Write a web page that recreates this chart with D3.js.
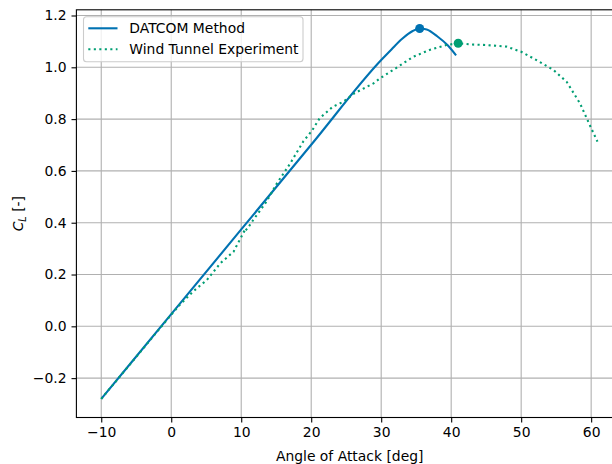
<!DOCTYPE html>
<html>
<head>
<meta charset="utf-8">
<script src="https://cdn.jsdelivr.net/npm/d3@7"></script>
<style>
    html, body { margin: 0; padding: 0; background: #fff; }
    svg { display: block; font-family: "DejaVu Sans", sans-serif; }
</style>
</head>
<body>
<svg id="chart" width="612" height="464"></svg>
<script>
// DATCOM prediction
const alphaDatcom = [-10, 0, 10, 20, 30, 31.5, 33, 34.5, 35.5, 36.5, 38, 39.5, 40.7];
const clDatcom = [-0.28, 0.047, 0.374, 0.701, 1.028, 1.07, 1.11, 1.14, 1.15, 1.146, 1.12, 1.085, 1.046];

// wind tunnel measurements
const alphaWT = [-10, -5, 0, 1.2, 3.1, 5.1, 7.0, 8.9, 10.0, 10.6, 10.3, 10.9, 11.7, 13.6, 15.1, 17.0,
    18.9, 20.1, 21.2, 22.0, 23.1, 24.6, 26.2, 28.9, 29.8, 32.0, 34.6, 37.0, 39.3, 41.0, 43.0, 45.0,
    47.9, 50.0, 51.7, 53.0, 54.6, 56.5, 58.4, 59.8, 60.9];
const clWT = [-0.28, -0.118, 0.045, 0.082, 0.134, 0.179, 0.243, 0.288, 0.345, 0.375, 0.362, 0.378, 0.41, 0.481, 0.552, 0.629,
    0.715, 0.755, 0.803, 0.822, 0.848, 0.867, 0.9, 0.938, 0.957, 0.995, 1.041, 1.068, 1.086, 1.093, 1.088, 1.086,
    1.08, 1.06, 1.035, 1.015, 0.99, 0.944, 0.861, 0.777, 0.713];

const xTicks = [-10, 0, 10, 20, 30, 40, 50, 60];
const yTicks = [-0.2, 0.0, 0.2, 0.4, 0.6, 0.8, 1.0, 1.2];

const seriesNames = ['DATCOM Method', 'Wind Tunnel Experiment'];
const colors = ['#0072B2', '#009E73'];

const svg = d3.select('#chart');
const plot = { left: 76.4, top: 9.8, right: 623, bottom: 417.5 };

const x = d3.scaleLinear().domain([-13.55, 64.55]).range([plot.left, plot.right]);
const y = d3.scaleLinear().domain([-0.352, 1.222]).range([plot.bottom, plot.top]);

const minus = s => s.replace('-', '\u2212');

// grid
svg.append('g').selectAll('line').data(xTicks).join('line')
    .attr('x1', d => x(d)).attr('x2', d => x(d))
    .attr('y1', plot.top).attr('y2', plot.bottom)
    .attr('stroke', '#b0b0b0').attr('stroke-width', 1.1);
svg.append('g').selectAll('line').data(yTicks).join('line')
    .attr('x1', plot.left).attr('x2', plot.right)
    .attr('y1', d => y(d)).attr('y2', d => y(d))
    .attr('stroke', '#b0b0b0').attr('stroke-width', 1.1);

// curves
const datcom = alphaDatcom.map((a, i) => [a, clDatcom[i]]);
const wt = alphaWT.map((a, i) => [a, clWT[i]]);

svg.append('path')
    .datum(datcom)
    .attr('fill', 'none')
    .attr('stroke', colors[0])
    .attr('stroke-width', 2.1)
    .attr('d', d3.line().x(d => x(d[0])).y(d => y(d[1])).curve(d3.curveMonotoneX));

svg.append('path')
    .datum(wt)
    .attr('fill', 'none')
    .attr('stroke', colors[1])
    .attr('stroke-width', 2.1)
    .attr('stroke-dasharray', '2.1 3.4')
    .attr('d', d3.line().x(d => x(d[0])).y(d => y(d[1])));

// maximum markers
const iD = d3.maxIndex(clDatcom);
const iW = d3.maxIndex(clWT);
svg.append('circle').attr('cx', x(alphaDatcom[iD])).attr('cy', y(clDatcom[iD])).attr('r', 4.5).attr('fill', colors[0]);
svg.append('circle').attr('cx', x(alphaWT[iW])).attr('cy', y(clWT[iW])).attr('r', 4.5).attr('fill', colors[1]);

// axes
const xAxis = d3.axisBottom(x).tickValues(xTicks).tickSize(4.9).tickPadding(4.9)
    .tickFormat(d => minus(d3.format('d')(d)));
const yAxis = d3.axisLeft(y).tickValues(yTicks).tickSize(4.9).tickPadding(4.9)
    .tickFormat(d => minus(d3.format('.1f')(d)));

const gx = svg.append('g').attr('transform', `translate(0,${plot.bottom})`).call(xAxis);
const gy = svg.append('g').attr('transform', `translate(${plot.left},0)`).call(yAxis);
[gx, gy].forEach(g => {
    g.select('.domain').remove();
    g.selectAll('.tick line').attr('stroke', '#000').attr('stroke-width', 1.1);
    g.selectAll('.tick text').attr('fill', '#000').attr('font-size', 13.9)
        .attr('font-family', '"DejaVu Sans", sans-serif');
});

// spines
svg.append('rect')
    .attr('x', plot.left).attr('y', plot.top)
    .attr('width', plot.right - plot.left).attr('height', plot.bottom - plot.top)
    .attr('fill', 'none').attr('stroke', '#000').attr('stroke-width', 1.1);

// axis labels
svg.append('text')
    .attr('x', (plot.left + plot.right) / 2).attr('y', 461)
    .attr('text-anchor', 'middle').attr('font-size', 13.9)
    .text('Angle of Attack [deg]');

const yl = svg.append('text')
    .attr('transform', `translate(23,${(plot.top + plot.bottom) / 2}) rotate(-90)`)
    .attr('text-anchor', 'middle').attr('font-size', 13.9);
yl.append('tspan').attr('font-style', 'italic').text('C');
yl.append('tspan').attr('font-style', 'italic').attr('font-size', 9.7).attr('dy', 3).text('L');
yl.append('tspan').attr('dy', -3).text(' [-]');

// legend
const lg = svg.append('g');
lg.append('rect')
    .attr('x', 83.5).attr('y', 16.7).attr('width', 219.5).attr('height', 45)
    .attr('rx', 3).attr('fill', '#fff').attr('fill-opacity', 0.8)
    .attr('stroke', '#cccccc').attr('stroke-width', 1.1);
seriesNames.forEach((name, i) => {
    const ly = 28.3 + i * 21;
    lg.append('line')
        .attr('x1', 88.3).attr('x2', 117.5).attr('y1', ly).attr('y2', ly)
        .attr('stroke', colors[i]).attr('stroke-width', 2.1)
        .attr('stroke-dasharray', i === 1 ? '2.1 3.4' : null);
    lg.append('text')
        .attr('x', 129.3).attr('y', ly + 5)
        .attr('font-size', 13.9)
        .text(name);
});
</script>
</body>
</html>
